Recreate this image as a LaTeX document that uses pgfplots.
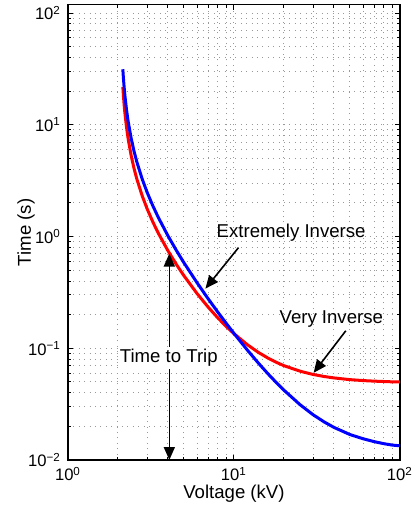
\documentclass[border=0pt]{standalone}
\usepackage{pgfplots}
\pgfplotsset{compat=1.18}
\usepackage{fontspec}
\setmainfont{Liberation Sans}
\usetikzlibrary{arrows.meta}
\pgfplotstableread{
V red blue
2.14 21.90 31.44
2.16 17.84 25.60
2.18 15.04 21.56
2.20 12.98 18.60
2.25 9.63 13.79
2.30 7.63 10.91
2.40 5.34 7.62
2.50 4.07 5.80
2.60 3.27 4.65
2.80 2.315 3.270
3.00 1.767 2.482
3.25 1.345 1.876
3.50 1.073 1.485
4.00 0.7477 1.0167
4.50 0.5626 0.7507
5.00 0.4454 0.5820
6.00 0.3083 0.3849
7.00 0.2331 0.2767
8.00 0.1869 0.2104
9.00 0.1564 0.1665
10.0 0.1351 0.1359
12.0 0.1081 0.0970
14.0 0.0921 0.0740
16.0 0.0818 0.0593
18.0 0.0749 0.0493
20.0 0.0699 0.0422
25.0 0.0624 0.0313
30.0 0.0583 0.0254
35.0 0.0559 0.0219
40.0 0.0543 0.0196
50.0 0.0524 0.0169
60.0 0.0514 0.0155
70.0 0.0508 0.0146
80.0 0.0504 0.0140
90.0 0.0501 0.0136
100 0.0499 0.0134
}\curves
\begin{document}
\begin{tikzpicture}
\begin{loglogaxis}[
  name=ax,
  at={(0,0)}, anchor=south west,
  scale only axis,
  width=166pt, height=227.7pt,
  xmin=1, xmax=100, ymin=0.01, ymax=119,
  xtick={1,10,100},
  xticklabels={10\textsuperscript{0},10\textsuperscript{1},10\textsuperscript{2}},
  ytick={0.01,0.1,1,10,100},
  yticklabels={10\textsuperscript{−2},10\textsuperscript{−1},10\textsuperscript{0},10\textsuperscript{1},10\textsuperscript{2}},
  minor xtick={2,3,4,5,6,7,8,9,20,30,40,50,60,70,80,90},
  minor ytick={0.02,0.03,0.04,0.05,0.06,0.07,0.08,0.09,0.2,0.3,0.4,0.5,0.6,0.7,0.8,0.9,2,3,4,5,6,7,8,9,20,30,40,50,60,70,80,90},
  tick align=inside,
  major tick length=2.5pt, minor tick length=1.5pt,
  tick style={black, line width=0.5pt},
  axis line style={line width=0.7pt},
  grid=both,
  major grid style={gray!80, line width=0.5pt, dash pattern=on 0.5pt off 2.2pt},
  minor grid style={gray!80, line width=0.5pt, dash pattern=on 0.5pt off 2.2pt},
  ticklabel style={font=\fontsize{8.3}{10}\selectfont},
  xlabel={Voltage (kV)}, ylabel={Time (s)},
  label style={font=\fontsize{9.3}{11}\selectfont},
  xlabel style={at={(axis description cs:0.5,-0.0747)}, anchor=center},
  ylabel style={at={(axis description cs:-0.1265,0.5)}, anchor=center},
]
\addplot[red, line width=1.5pt, no marks] table[x=V, y=red] {\curves};
\addplot[blue, line width=1.5pt, no marks] table[x=V, y=blue] {\curves};
\draw[line width=0.8pt, {Triangle[length=6.5pt,width=5.5pt]}-{Triangle[length=6.5pt,width=5.5pt]}] (axis cs:4.08,0.01) -- (axis cs:4.08,0.705);
\node[fill=white, inner sep=1pt, font=\fontsize{9.3}{11}\selectfont] at (axis cs:4.05,0.082) {Time to Trip};
\node[font=\fontsize{9.3}{11}\selectfont] at (axis cs:22.1,1.09) {Extremely Inverse};
\draw[line width=0.8pt, -{Triangle[length=6.5pt,width=5.5pt]}] (axis cs:10.65,0.796) -- (axis cs:6.73,0.342);
\node[font=\fontsize{9.3}{11}\selectfont] at (axis cs:38.6,0.184) {Very Inverse};
\draw[line width=0.8pt, -{Triangle[length=6.5pt,width=5.5pt]}] (axis cs:47.2,0.1435) -- (axis cs:30.2,0.0603);
\end{loglogaxis}
\pgfresetboundingbox
\path (-34pt,-23pt) rectangle (174.5pt,230.05pt);
\end{tikzpicture}
\end{document}
